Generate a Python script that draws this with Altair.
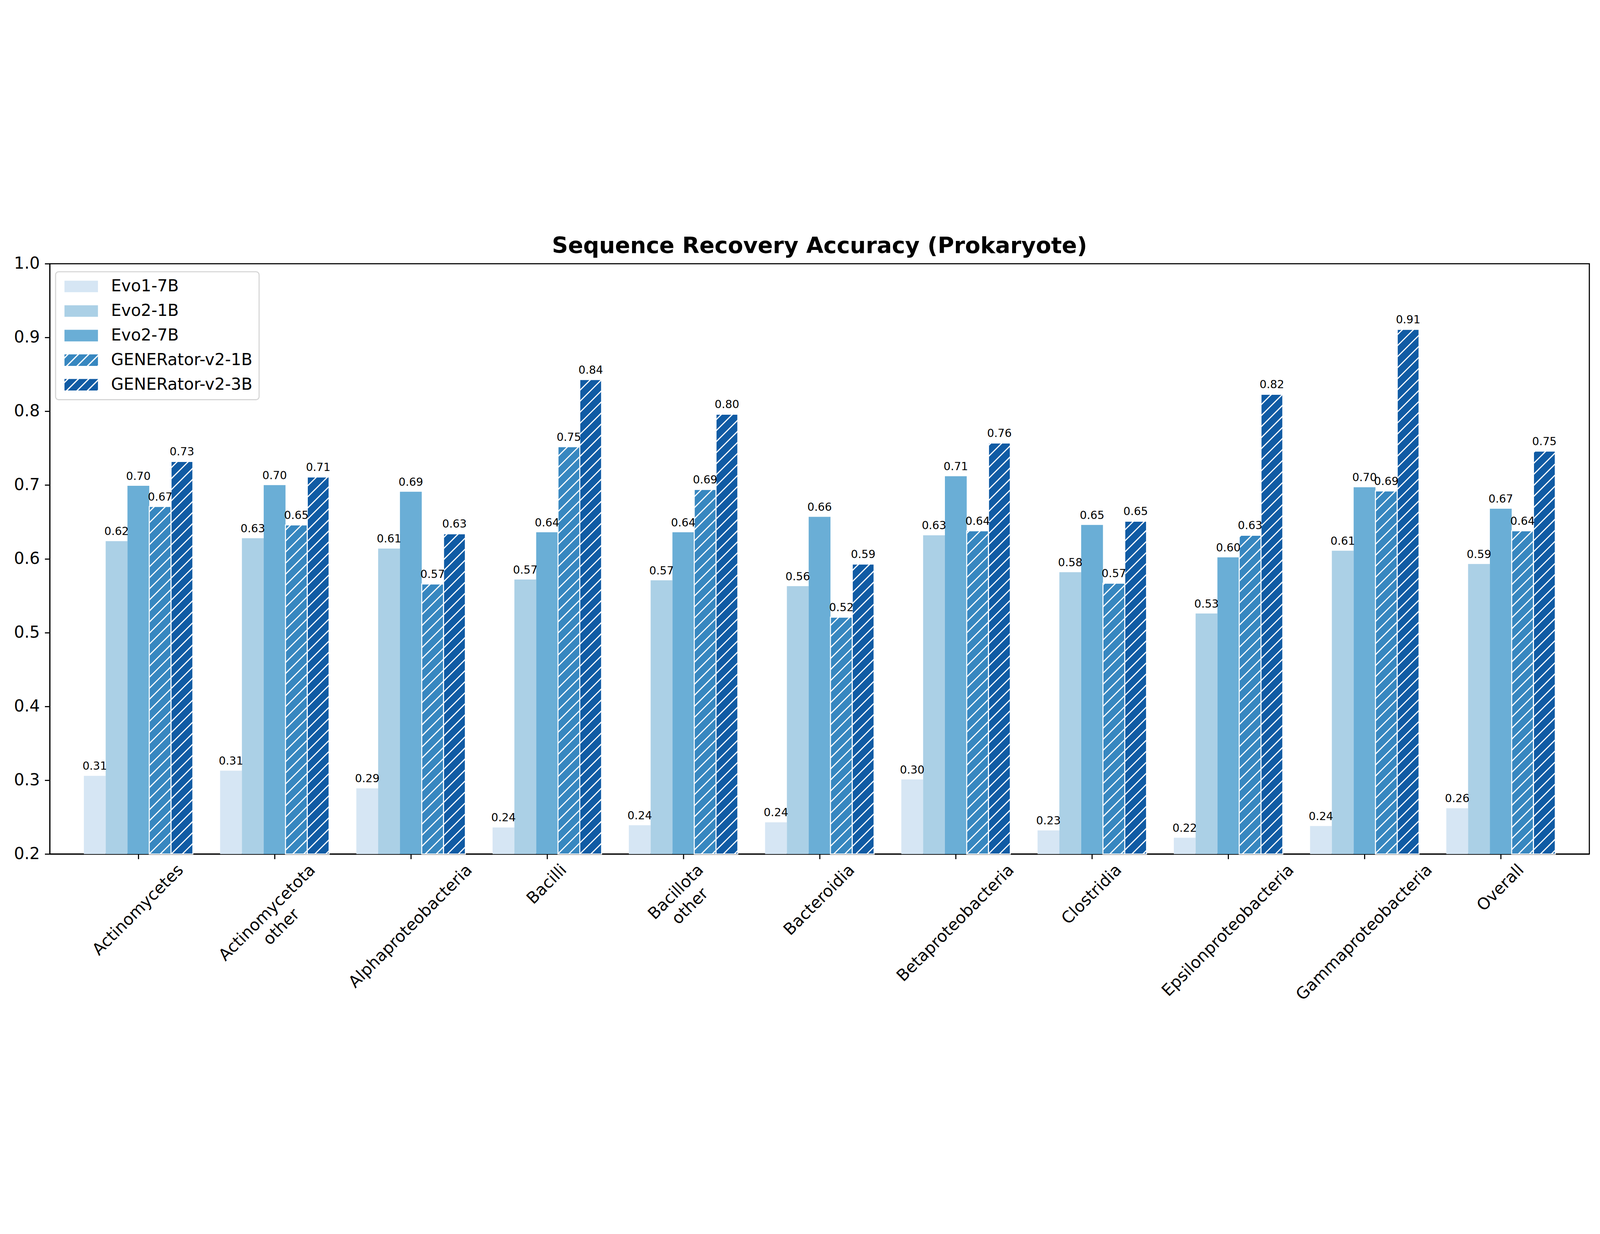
import altair as alt
import pandas as pd

# ---------------- data ----------------
categories = [
    "Actinomycetes", "Actinomycetota\nother", "Alphaproteobacteria", "Bacilli",
    "Bacillota\nother", "Bacteroidia", "Betaproteobacteria", "Clostridia",
    "Epsilonproteobacteria", "Gammaproteobacteria", "Overall",
]
models = ["Evo1-7B", "Evo2-1B", "Evo2-7B", "GENERator-v2-1B", "GENERator-v2-3B"]
colors = ["#d6e6f4", "#abd0e6", "#6aaed6", "#3787c0", "#105ba4"]
hatched = [False, False, False, True, True]

evo1_7b = [0.306, 0.313, 0.289, 0.236, 0.239, 0.243, 0.301, 0.232, 0.222, 0.238, 0.262]
evo2_1b = [0.624, 0.628, 0.614, 0.572, 0.571, 0.563, 0.632, 0.582, 0.526, 0.611, 0.593]
evo2_7b = [0.699, 0.700, 0.691, 0.636, 0.636, 0.657, 0.712, 0.646, 0.602, 0.697, 0.668]
gen_1b = [0.671, 0.646, 0.566, 0.752, 0.694, 0.521, 0.638, 0.567, 0.632, 0.692, 0.638]
gen_3b = [0.732, 0.711, 0.634, 0.843, 0.796, 0.593, 0.757, 0.651, 0.823, 0.911, 0.746]
series = [evo1_7b, evo2_1b, evo2_7b, gen_1b, gen_3b]

# ---------------- layout constants ----------------
W, H = 6135, 2353
XDOM = [-0.65, len(categories) - 1 + 0.65]
YDOM = [0.2, 1.0]
BAR_W = 0.16
FONT = "DejaVu Sans"
FS = 65
LINE_H = 80

px_x = W / (XDOM[1] - XDOM[0])
px_y = H / (YDOM[1] - YDOM[0])

rows = []
for k, (m, vals) in enumerate(zip(models, series)):
    for i, v in enumerate(vals):
        x0 = i - 0.4 + BAR_W * k
        rows.append(dict(model=m, cat=i, val=v, x0=x0, x1=x0 + BAR_W,
                         xc=x0 + BAR_W / 2, hatch=int(hatched[k])))
df = pd.DataFrame(rows)

# hatch segments (45 degrees on screen), clipped to each hatched bar
SP = 44.0
hrows = []
for r in rows:
    if not r["hatch"]:
        continue
    xl = (r["x0"] - XDOM[0]) * px_x
    xr = (r["x1"] - XDOM[0]) * px_x
    yb = 0.0
    yt = (r["val"] - YDOM[0]) * px_y
    kmin = int((yb - xr) // SP) - 1
    kmax = int((yt - xl) // SP) + 1
    for kk in range(kmin, kmax + 1):
        c = kk * SP
        a = max(xl, yb - c)
        b = min(xr, yt - c)
        if b - a > 1.0:
            hrows.append(dict(
                hx0=XDOM[0] + a / px_x, hx1=XDOM[0] + b / px_x,
                hy0=YDOM[0] + (a + c) / px_y, hy1=YDOM[0] + (b + c) / px_y))
hdf = pd.DataFrame(hrows)

# approximate DejaVu Sans advance widths (1/2048 em), used to centre rotated labels
ADV = {"A": 1401, "B": 1405, "C": 1430, "E": 1294, "G": 1548, "O": 1612,
       "a": 1255, "b": 1300, "c": 1126, "d": 1300, "e": 1260, "f": 721,
       "g": 1300, "h": 1298, "i": 569, "l": 569, "m": 1995, "n": 1298,
       "o": 1253, "p": 1300, "r": 842, "s": 1067, "t": 803, "u": 1298,
       "v": 1212, "y": 1212, "k": 1186}


def text_w(s):
    return sum(ADV.get(ch, 1250) for ch in s) / 2048 * FS


lab_rows = []
for i, c in enumerate(categories):
    lines = c.split("\n")
    w = max(text_w(l) for l in lines)
    hb = FS + (len(lines) - 1) * LINE_H
    dxp = -0.3536 * hb
    dyp = 31 + 0.3536 * w
    lab_rows.append(dict(name=c, lx=i + dxp / px_x, ly=YDOM[0] - dyp / px_y))
ldf = pd.DataFrame(lab_rows)


# ---------------- legend symbols (plain and hatched rectangles) ----------------
def clip(poly, a, b, c):
    """keep the part of a polygon where a*x + b*y <= c"""
    out = []
    n = len(poly)
    for j in range(n):
        p, q = poly[j], poly[(j + 1) % n]
        fp = a * p[0] + b * p[1] - c
        fq = a * q[0] + b * q[1] - c
        if fp <= 0:
            out.append(p)
        if (fp < 0 < fq) or (fq < 0 < fp):
            t = fp / (fp - fq)
            out.append((p[0] + t * (q[0] - p[0]), p[1] + t * (q[1] - p[1])))
    return out


def poly_path(poly):
    return "M" + "L".join(f"{x:.3f},{y:.3f}" for x, y in poly) + "Z"


RECT = [(-1.0, -1.0), (4.8, -1.0), (4.8, 1.0), (-1.0, 1.0)]
plain_path = poly_path(RECT)
STRIPE, GAP = 1.8, 0.3
hatch_parts = []
for j in range(-3, 6):
    lo = 0.4 + j * STRIPE + GAP / 2
    hi = 0.4 + (j + 1) * STRIPE - GAP / 2
    pg = clip(clip(RECT, -1, -1, -lo), 1, 1, hi)
    if len(pg) >= 3:
        hatch_parts.append(poly_path(pg))
hatch_path = "".join(hatch_parts)
shape_paths = [hatch_path if h else plain_path for h in hatched]

xscale = alt.Scale(domain=XDOM, nice=False, zero=False)
yscale = alt.Scale(domain=YDOM, nice=False, zero=False)
cscale = alt.Scale(domain=models, range=colors)

xaxis = alt.Axis(
    values=list(range(len(categories))), labels=False, title=None,
    tickSize=20, tickWidth=4.4, tickColor="black",
    domainWidth=4.4, domainColor="black", grid=False,
)
yaxis = alt.Axis(
    values=[0.2, 0.3, 0.4, 0.5, 0.6, 0.7, 0.8, 0.9, 1.0], format=".1f", title=None,
    labelFontSize=FS, labelFont=FONT, labelColor="black", labelPadding=20,
    tickSize=20, tickWidth=4.4, tickColor="black",
    domainWidth=4.4, domainColor="black", grid=False,
)

legend = alt.Legend(
    title=None, orient="none", legendX=23, legendY=32, padding=26, rowPadding=32,
    symbolType=plain_path, symbolSize=2116, symbolStrokeWidth=0, symbolOpacity=1,
    labelFontSize=FS, labelFont=FONT, labelColor="black", labelOffset=130,
    labelLimit=3000, strokeColor="#d6d6d6", fillColor="white", cornerRadius=12,
)

bars = alt.Chart(df).mark_bar(stroke="white").encode(
    x=alt.X("x0:Q", scale=xscale, axis=xaxis),
    x2="x1:Q",
    y=alt.Y("val:Q", scale=yscale, axis=yaxis),
    y2=alt.datum(0.2),
    color=alt.Color("model:N", scale=cscale, sort=models, legend=legend),
    strokeWidth=alt.condition("datum.hatch == 1", alt.value(4), alt.value(0)),
)

hatch = alt.Chart(hdf).mark_rule(color="white", strokeWidth=4.5, strokeCap="butt").encode(
    x=alt.X("hx0:Q", scale=xscale, axis=xaxis),
    x2="hx1:Q",
    y=alt.Y("hy0:Q", scale=yscale, axis=yaxis),
    y2="hy1:Q",
)

# invisible points that only carry the legend's hatched symbols
keys = alt.Chart(df).mark_point(filled=True, opacity=0, size=4).encode(
    x=alt.X("xc:Q", scale=xscale, axis=xaxis),
    y=alt.Y("val:Q", scale=yscale, axis=yaxis),
    color=alt.Color("model:N", scale=cscale, sort=models, legend=legend),
    shape=alt.Shape("model:N", scale=alt.Scale(domain=models, range=shape_paths),
                    sort=models, legend=legend),
)

values = alt.Chart(df).mark_text(
    baseline="alphabetic", align="center", dy=-24, fontSize=44, font=FONT, color="black"
).encode(
    x=alt.X("xc:Q", scale=xscale, axis=xaxis),
    y=alt.Y("val:Q", scale=yscale, axis=yaxis),
    text=alt.Text("val:Q", format=".2f"),
)

cat_labels = alt.Chart(ldf).mark_text(
    angle=315, align="center", baseline="top", lineBreak="\n", lineHeight=LINE_H,
    fontSize=FS, font=FONT, color="black",
).encode(
    x=alt.X("lx:Q", scale=xscale, axis=xaxis),
    y=alt.Y("ly:Q", scale=yscale, axis=yaxis),
    text="name:N",
)

chart = alt.layer(bars, hatch, keys, values, cat_labels).properties(
    width=W, height=H,
    padding={"left": 42, "top": 53, "right": 30, "bottom": 20},
    title=alt.TitleParams(
        "Sequence Recovery Accuracy (Prokaryote)", fontSize=89, font=FONT,
        fontWeight="bold", anchor="middle", baseline="alphabetic", offset=-79,
        frame="group", color="black",
    ),
).configure_view(stroke="black", strokeWidth=4.4).configure_legend(strokeWidth=4.4)

chart.save("out.html", embed_options={"renderer": "svg", "actions": False})
